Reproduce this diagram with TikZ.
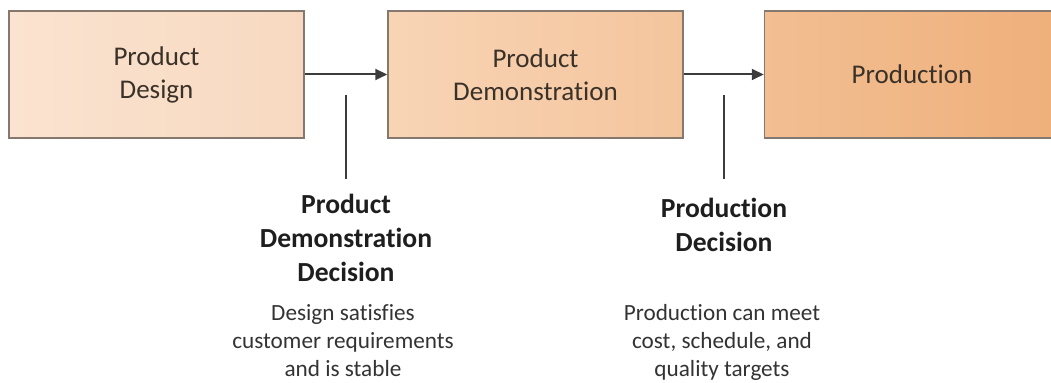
\documentclass[tikz,border=0pt]{standalone}
\usepackage{fontspec}
\setmainfont{Carlito}[RawFeature={-liga;-clig;-dlig;-calt}]
\usetikzlibrary{arrows.meta}
\definecolor{stageline}{HTML}{85796F}
\definecolor{stagetext}{HTML}{3A3129}
\definecolor{flowline}{HTML}{3C3C3C}
\definecolor{dectext}{HTML}{1E1E1E}
\definecolor{crittext}{HTML}{333333}
\definecolor{designL}{HTML}{FAE3D0}
\definecolor{designR}{HTML}{F8D9C0}
\definecolor{demoL}{HTML}{F8D4B5}
\definecolor{demoR}{HTML}{F4C59D}
\definecolor{prodL}{HTML}{F2BE92}
\definecolor{prodR}{HTML}{EFB07B}
\tikzset{
  stage/.style={draw=stageline, line width=0.75pt, minimum width=147.5pt, minimum height=63.5pt,
    align=center, inner sep=0pt, text=stagetext, font=\fontsize{13.5}{16.5}\selectfont},
  flow/.style={draw=flowline, line width=1pt, -{Triangle[length=6pt,width=5.5pt]}},
  gate/.style={draw=flowline, line width=1.2pt},
  decision/.style={anchor=north, align=center, inner sep=7.5pt, text=dectext,
    font=\fontsize{13.8}{17}\selectfont\bfseries},
  criteria/.style={align=center, inner sep=0pt, text=crittext, font=\fontsize{11.6}{14}\selectfont}
}

\begin{document}
\begin{tikzpicture}[x=0.5pt, y=-0.5pt]
\useasboundingbox (0,0) rectangle (1051,383);
% stages
\node[stage, left color=designL, right color=designR] (design) at (156.5,74.5) {Product\\Design};
\node[stage, left color=demoL, right color=demoR] (demo) at (535.5,74.5) {Product\\Demonstration};
\node[stage, left color=prodL, right color=prodR] (prod) at (912,74.5) {Production};
\draw[flow] (design) -- (demo);
\draw[flow] (demo) -- (prod);
% decision points
\coordinate (gateA) at (346,95);
\coordinate (gateB) at (724,95);
\node[decision] (decA) at (346,179) {Product\\Demonstration\\Decision};
\node[decision, inner ysep=9.5pt] (decB) at (724,179) {Production\\Decision};
\draw[gate] (gateA) -- (decA);
\draw[gate] (gateB) -- (decB);
\node[criteria] (critA) at (343,341) {Design satisfies\\customer requirements\\and is stable};
\node[criteria] (critB) at (722,342) {Production can meet\\cost, schedule, and\\quality targets};
\end{tikzpicture}
\end{document}
